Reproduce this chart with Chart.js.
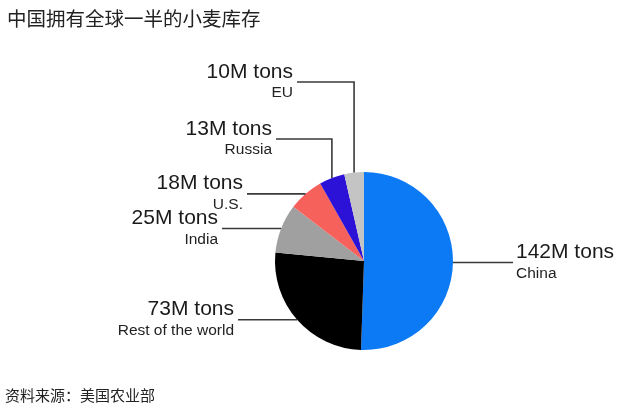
<!DOCTYPE html>
<html>
<head>
<meta charset="utf-8">
<script src="https://cdn.jsdelivr.net/npm/chart.js@4"></script>
<style>
  html, body { margin: 0; padding: 0; background: #fff; }
  #wrap { position: relative; width: 640px; height: 406px; overflow: hidden; }
  #title { position: absolute; left: 7px; top: 6px; font: 19.5px "Noto Sans CJK SC", sans-serif; color: #222; line-height: 24px; white-space: nowrap; }
  #source { position: absolute; left: 5px; top: 385px; font: 15px "Noto Sans CJK SC", sans-serif; color: #222; line-height: 20px; white-space: nowrap; }
  canvas { position: absolute; left: 0; top: 0; }
</style>
</head>
<body>
<div id="wrap">
  <canvas id="c" width="640" height="406"></canvas>
  <div id="title">中国拥有全球一半的小麦库存</div>
  <div id="source">资料来源：美国农业部</div>
</div>
<script>
// Data
const categories = ["China", "Rest of the world", "India", "U.S.", "Russia", "EU"];
const stocks = [142, 73, 25, 18, 13, 10]; // million tons
const valueLabels = ["142M tons", "73M tons", "25M tons", "18M tons", "13M tons", "10M tons"];
const sliceColors = ["#0c7af5", "#000000", "#a0a0a0", "#f6615b", "#2b12d6", "#c4c4c4"];

// Label layout (annotation anchors, not data)
// side: 'r' => text starts at x (right of pie); 'l' => text ends at x
// y given => elbow line at that height; otherwise line at slice mid height
const labelLayout = [
  { x: 516, side: 'r' },
  { x: 234, side: 'l' },
  { x: 218, side: 'l' },
  { x: 243, side: 'l' },
  { x: 272, side: 'l', y: 139 },
  { x: 293, side: 'l', y: 82 }
];

const leaderPlugin = {
  id: 'leaders',
  afterDatasetsDraw(chart) {
    const ctx = chart.ctx;
    const meta = chart.getDatasetMeta(0);
    ctx.save();
    meta.data.forEach((arc, i) => {
      const p = arc.getProps(['x', 'y', 'startAngle', 'endAngle', 'outerRadius'], true);
      const mid = (p.startAngle + p.endAngle) / 2;
      const px = p.x + Math.cos(mid) * p.outerRadius;
      const py = p.y + Math.sin(mid) * p.outerRadius;
      const L = labelLayout[i];
      const lineY = (L.y !== undefined) ? L.y : py;
      ctx.strokeStyle = '#3a3a3a';
      ctx.lineWidth = 1.6;
      ctx.beginPath();
      if (L.side === 'r') {
        ctx.moveTo(L.x - 3, lineY);
        ctx.lineTo(px, lineY);
      } else {
        ctx.moveTo(L.x + 4, lineY);
        ctx.lineTo(px, lineY);
        if (L.y !== undefined) ctx.lineTo(px, py);
      }
      ctx.stroke();

      ctx.fillStyle = '#1a1a1a';
      ctx.textAlign = L.side === 'r' ? 'left' : 'right';
      ctx.textBaseline = 'alphabetic';
      ctx.font = '21px "Liberation Sans", Arial, sans-serif';
      ctx.fillText(valueLabels[i], L.x, lineY - 4.5);
      ctx.font = '15.5px "Liberation Sans", Arial, sans-serif';
      ctx.fillStyle = '#222';
      ctx.textBaseline = 'middle';
      ctx.fillText(categories[i], L.x, lineY + 11);
    });
    ctx.restore();
  }
};

new Chart(document.getElementById('c'), {
  type: 'pie',
  data: {
    labels: categories,
    datasets: [{
      data: stocks,
      backgroundColor: sliceColors,
      borderWidth: 0
    }]
  },
  options: {
    responsive: false,
    animation: false,
    layout: { padding: { left: 275, right: 187, top: 172, bottom: 56 } },
    plugins: { legend: { display: false }, tooltip: { enabled: false } }
  },
  plugins: [leaderPlugin]
});
</script>
</body>
</html>
